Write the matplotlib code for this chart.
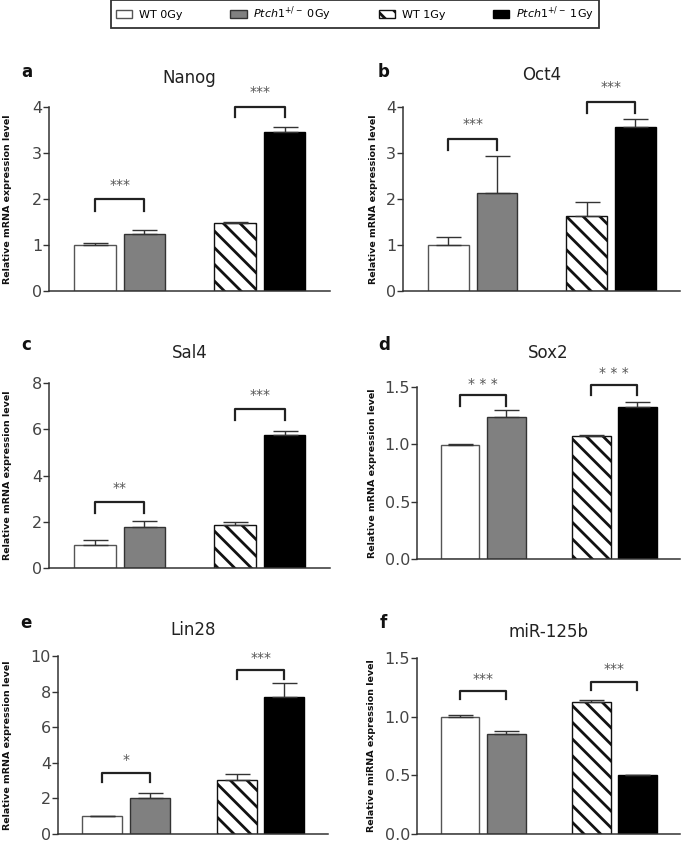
import matplotlib
matplotlib.use("Agg")
import matplotlib.pyplot as plt
import numpy as np

# ---------------- data ----------------
groups = ["WT 0Gy", r"$\mathit{Ptch1}^{+/-}$ 0Gy", "WT 1Gy", r"$\mathit{Ptch1}^{+/-}$ 1Gy"]
genes = ["Nanog", "Oct4", "Sal4", "Sox2", "Lin28", "miR-125b"]
panel_letters = ["a", "b", "c", "d", "e", "f"]

nanog_mean = [1.00, 1.24, 1.47, 3.46]
nanog_err = [0.05, 0.08, 0.04, 0.10]
oct4_mean = [0.99, 2.14, 1.63, 3.56]
oct4_err = [0.18, 0.80, 0.31, 0.19]
sal4_mean = [1.01, 1.77, 1.84, 5.76]
sal4_err = [0.20, 0.25, 0.13, 0.18]
sox2_mean = [0.99, 1.24, 1.076, 1.326]
sox2_err = [0.01, 0.06, 0.003, 0.045]
lin28_mean = [1.00, 2.02, 3.03, 7.71]
lin28_err = [0.00, 0.30, 0.36, 0.75]
mir125b_mean = [0.995, 0.85, 1.126, 0.499]
mir125b_err = [0.023, 0.026, 0.014, 0.006]

y_max = [4, 4, 8, 1.5, 10, 1.5]
y_step = [1, 1, 2, 0.5, 2, 0.5]
y_fmt = ["{:.0f}", "{:.0f}", "{:.0f}", "{:.1f}", "{:.0f}", "{:.1f}"]
y_labels = ["Relative mRNA expression level"] * 5 + ["Relative miRNA expression level"]

# significance: (bracket top, leg bottom, star height) for 0Gy and 1Gy comparisons
sig_left = [(2.00, 1.75, 2.30), (3.31, 3.07, 3.64), (2.85, 2.38, 3.46),
            (1.43, 1.33, 1.53), (3.45, 2.94, 4.16), (1.216, 1.148, 1.324)]
sig_right = [(4.01, 3.78, 4.33), (4.11, 3.86, 4.43), (6.89, 6.41, 7.49),
             (1.52, 1.43, 1.62), (9.21, 8.69, 9.87), (1.296, 1.225, 1.41)]
stars_left = ["***", "***", "**", "* * *", "*", "***"]
stars_right = ["***", "***", "***", "* * *", "***", "***"]

means = [nanog_mean, oct4_mean, sal4_mean, sox2_mean, lin28_mean, mir125b_mean]
errs = [nanog_err, oct4_err, sal4_err, sox2_err, lin28_err, mir125b_err]

# ---------------- style ----------------
plt.rcParams["font.family"] = ["DejaVu Sans"]
plt.rcParams["hatch.linewidth"] = 2.0
plt.rcParams["mathtext.fontset"] = "dejavusans"

W, H = 685, 842
fig = plt.figure(figsize=(W / 100, H / 100), dpi=100)

# axes boxes in pixels: left, right, y of 0, y of ymax
boxes = [(49, 330, 291, 107), (403, 680, 291, 107),
         (49, 330, 568, 383), (417, 680, 559, 387),
         (58, 328, 834, 656), (417, 680, 834, 658)]
label_x = [-0.132, -0.090, -0.132, -0.152, -0.170, -0.156]
title_dy = [29, 32, 30, 34, 26, 26]
letter_pos = [(27, 72), (384, 72), (26, 345), (384, 345), (26, 623), (383, 623)]

xpos = np.array([0, 1, 2.84, 3.84])
bar_w = 0.84
faces = ["white", "#808080", "white", "black"]
edges = ["#555555", "#333333", "#111111", "black"]
hatches = [None, None, "\\\\", None]

handles = None
for i in range(6):
    l, r, y0, yt = boxes[i]
    ax = fig.add_axes([l / W, (H - y0) / H, (r - l) / W, (y0 - yt) / H])
    bars = ax.bar(xpos, means[i], width=bar_w, color=faces, edgecolor=edges,
                  linewidth=1.0, zorder=2)
    for b, h in zip(bars, hatches):
        if h:
            b.set_hatch(h)
    if handles is None:
        handles = list(bars)
    ax.errorbar(xpos, means[i], yerr=[np.zeros(4), errs[i]], fmt="none",
                ecolor="#333333", elinewidth=1.0, capsize=9, capthick=1.0, zorder=3)
    # significance brackets
    for (top, leg, sy), s, (a, b) in [(sig_left[i], stars_left[i], (0, 1)),
                                       (sig_right[i], stars_right[i], (2, 3))]:
        ax.plot([xpos[a], xpos[a], xpos[b], xpos[b]], [leg, top, top, leg],
                color="#222222", lw=1.6, clip_on=False, zorder=4)
        ax.text((xpos[a] + xpos[b]) / 2, sy, s, ha="center", va="center",
                fontsize=10, color="#555555", clip_on=False)
    ax.set_xlim(-0.93, 4.76)
    ax.set_ylim(0, y_max[i])
    ticks = np.arange(0, y_max[i] + 1e-9, y_step[i])
    ax.set_yticks(ticks)
    ax.set_yticklabels([y_fmt[i].format(t) for t in ticks])
    ax.set_xticks([])
    for sp in ["top", "right"]:
        ax.spines[sp].set_visible(False)
    for sp in ["left", "bottom"]:
        ax.spines[sp].set_linewidth(1.1)
        ax.spines[sp].set_color("#333333")
    ax.tick_params(axis="y", length=4, width=1.0, color="#333333",
                   labelsize=11.5, labelcolor="#444444", pad=1)
    ax.set_ylabel(y_labels[i], fontsize=6.8, fontweight="bold", color="#111111")
    ax.yaxis.set_label_coords(label_x[i], 0.5)
    ax.annotate(genes[i], xy=(0.5, 1), xycoords="axes fraction",
                xytext=(0, title_dy[i] * 0.72), textcoords="offset points",
                ha="center", va="center", fontsize=12, color="#222222")
    lx, ly = letter_pos[i]
    fig.text(lx / W, 1 - ly / H, panel_letters[i], ha="center", va="center",
             fontsize=12, fontweight="bold", color="#111111")

leg = fig.legend(handles, groups, loc="center", bbox_to_anchor=(355 / W, 1 - 14 / H),
                 ncol=4, fontsize=8, frameon=True, fancybox=False,
                 handlelength=1.45, handleheight=0.7, handletextpad=0.6,
                 columnspacing=4.3, borderpad=0.45)
leg.get_frame().set_edgecolor("black")
leg.get_frame().set_linewidth(1.3)

fig.savefig("out.png", dpi=100)
